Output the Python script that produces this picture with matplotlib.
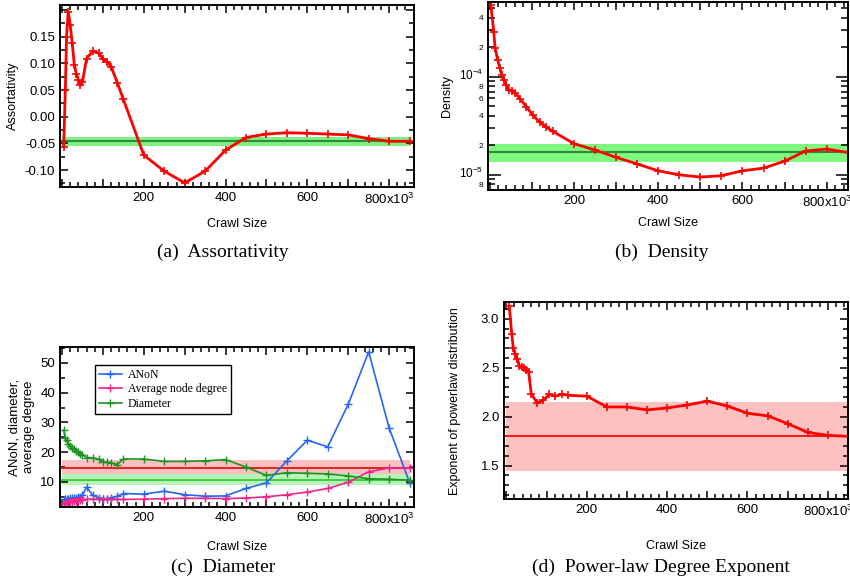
import matplotlib
matplotlib.use("Agg")
import matplotlib.pyplot as plt
import matplotlib.transforms as mtransforms
from matplotlib.ticker import MultipleLocator, FuncFormatter, LogLocator, FixedLocator

plt.rcParams['font.family'] = ['Liberation Sans', 'DejaVu Sans']
plt.rcParams['mathtext.fontset'] = 'custom'
plt.rcParams['mathtext.rm'] = 'Liberation Sans'
plt.rcParams['mathtext.it'] = 'Liberation Sans'

# crawl sizes (x10^3)
crawl_ac = [4, 8, 11, 15, 20, 25, 30, 35, 40, 45, 50, 60, 75, 90, 100, 110, 120, 135, 150,
            200, 250, 300, 350, 400, 450, 500, 550, 600, 650, 700, 750, 800, 850]
crawl_b = [3, 10, 13, 19, 24, 29, 34, 39, 45, 53, 61, 73, 87, 102, 119, 134, 150,
           200, 250, 300, 350, 400, 450, 500, 550, 600, 650, 700, 750, 800, 850]
crawl_d = [7, 13, 17, 22, 27, 32, 38, 44, 49, 55, 62, 77, 92, 107, 122, 138, 152,
           200, 250, 300, 350, 400, 450, 500, 550, 600, 650, 700, 750, 800, 850]

assortativity = [-0.056, 0.05, 0.15, 0.197, 0.172, 0.1375, 0.097, 0.080, 0.069, 0.059, 0.066,
                 0.109, 0.123, 0.119, 0.1075, 0.103, 0.094, 0.064, 0.0325,
                 -0.072, -0.102, -0.124, -0.102, -0.0625, -0.039, -0.0325, -0.030, -0.031,
                 -0.0325, -0.034, -0.041, -0.046, -0.046]
assort_mean, assort_lo, assort_hi = -0.045, -0.054, -0.0375

density = [5.35e-4, 2.84e-4, 1.96e-4, 1.49e-4, 1.23e-4, 1.05e-4, 9.2e-5, 8.2e-5, 7.3e-5,
           7.2e-5, 6.8e-5, 5.9e-5, 4.96e-5, 4.08e-5, 3.44e-5, 3.07e-5, 2.77e-5,
           2.08e-5, 1.79e-5, 1.51e-5, 1.29e-5, 1.10e-5, 1.0e-5, 9.5e-6, 9.8e-6, 1.10e-5,
           1.17e-5, 1.38e-5, 1.75e-5, 1.83e-5, 1.69e-5]
dens_mean, dens_lo, dens_hi = 1.70e-5, 1.34e-5, 2.07e-5

anon = [3.8, 4.1, 4.2, 4.4, 4.5, 4.6, 4.7, 4.7, 4.8, 5.0, 5.5, 8.3, 5.5, 4.7, 4.4, 4.4, 4.7,
        5.2, 6.1, 5.9, 6.9, 5.7, 5.2, 5.3, 7.8, 9.7, 17.1, 24.0, 21.8, 36.1, 53.7, 28.2, 9.8]
avg_degree = [2.7, 2.9, 3.1, 3.2, 3.3, 3.4, 3.5, 3.6, 3.7, 3.8, 3.9, 4.2, 4.2, 4.1, 4.1, 4.1,
              4.1, 4.1, 4.1, 4.2, 4.4, 4.5, 4.5, 4.4, 4.6, 5.0, 5.7, 6.6, 7.8, 9.9, 13.4,
              14.7, 14.7]
diameter = [27.4, 24.6, 24.0, 22.9, 22.1, 21.5, 21.0, 20.4, 19.9, 19.5, 19.2, 18.2, 18.1,
            17.6, 16.7, 16.6, 16.5, 15.8, 17.7, 17.7, 16.9, 16.9, 17.1, 17.5, 15.0, 12.2,
            13.1, 12.9, 12.7, 12.0, 11.1, 10.9, 10.6]
deg_mean, deg_lo, deg_hi = 14.7, 12.0, 17.3
diam_mean, diam_lo, diam_hi = 10.6, 8.9, 12.8

exponent = [3.13, 2.85, 2.70, 2.64, 2.59, 2.52, 2.51, 2.50, 2.48, 2.46, 2.23, 2.14, 2.17,
            2.23, 2.21, 2.23, 2.22, 2.21, 2.10, 2.10, 2.07, 2.09, 2.12, 2.16, 2.11, 2.035,
            2.01, 1.93, 1.84, 1.81, 1.80]
exp_mean, exp_lo, exp_hi = 1.80, 1.45, 2.155

band_x = [0, 850]


def xfmt(v, pos):
    if v == 800:
        return '800x10$^{3}$'
    if v in (200, 400, 600):
        return '%d' % v
    return ''


def style(ax, xlim):
    ax.set_xlim(xlim)
    ax.xaxis.set_major_locator(MultipleLocator(100))
    ax.xaxis.set_minor_locator(MultipleLocator(20))
    ax.xaxis.set_major_formatter(FuncFormatter(xfmt))
    ax.tick_params(which='both', direction='in', top=True, right=True, labelsize=9.5, width=1.1)
    ax.tick_params(which='major', length=6)
    ax.tick_params(which='minor', length=3.5)
    for s in ax.spines.values():
        s.set_linewidth(1.4)
    ax.set_xlabel('Crawl Size', fontsize=9)


fig = plt.figure(figsize=(8.5, 5.83), dpi=100)

# (a) Assortativity
ax1 = fig.add_axes([0.0706, 0.679, 0.4165, 0.312])
ax1.fill_between(band_x, assort_lo, assort_hi, color='#80f080', lw=0)
ax1.plot(band_x, [assort_mean] * 2, color='#2e8b3e', lw=1.5)
ax1.plot(crawl_ac, assortativity, color='red', lw=2, marker='+', ms=6, mew=1.2)
style(ax1, (-5, 861))
ax1.set_ylim(-0.132, 0.209)
ax1.yaxis.set_major_locator(MultipleLocator(0.05))
ax1.yaxis.set_minor_locator(MultipleLocator(0.025))
ax1.yaxis.set_major_formatter(FuncFormatter(lambda v, p: '%.2f' % v if v < 0.19 else ''))
ax1.set_ylabel('Assortativity', fontsize=9)
ax1.xaxis.labelpad = 8

# (b) Density
ax2 = fig.add_axes([0.574, 0.674, 0.4235, 0.3225])
ax2.axhspan(dens_lo, dens_hi, color='#80f880', lw=0)
ax2.axhline(dens_mean, color='#2d8a3a', lw=1.5)
ax2.plot(crawl_b, density, color='red', lw=2, marker='+', ms=6, mew=1.2)
ax2.set_yscale('log')
style(ax2, (-4, 850))
ax2.set_ylim(7.0e-6, 5.75e-4)
ax2.yaxis.set_major_locator(FixedLocator([1e-5, 1e-4]))
ax2.yaxis.set_minor_locator(LogLocator(base=10, subs=range(2, 10)))
ax2.yaxis.set_major_formatter(FuncFormatter(
    lambda v, p: '10$^{%d}$' % round(__import__('math').log10(v))))


def minor_fmt(v, pos):
    m = round(v / 10 ** int(f'{v:e}'.split('e')[1]))
    return '%d' % m if m in (2, 4, 6, 8) else ''


ax2.yaxis.set_minor_formatter(FuncFormatter(minor_fmt))
ax2.tick_params(axis='y', which='minor', labelsize=6, length=5)
ax2.tick_params(axis='y', which='major', length=9, labelsize=8.5)
# nudge the major decade labels a bit upward so they clear the "8" below
for lab in ax2.get_yticklabels():
    lab.set_transform(lab.get_transform() +
                      mtransforms.ScaledTranslation(0, 2 / 72, fig.dpi_scale_trans))
ax2.set_ylabel('Density', fontsize=9)
ax2.xaxis.labelpad = 5

# (c) Diameter
ax3 = fig.add_axes([0.0706, 0.130, 0.4165, 0.275])
ax3.fill_between(band_x, deg_lo, deg_hi, color='#f8c0c0', lw=0)
ax3.plot(band_x, [deg_mean] * 2, color='#e52020', lw=1.4)
ax3.fill_between(band_x, diam_lo, diam_hi, color='#b8f2b8', lw=0)
ax3.plot(band_x, [diam_mean] * 2, color='#3ccf3c', lw=1.4)
ax3.plot(crawl_ac, anon, color='#2466f0', lw=1.2, marker='+', ms=6, mew=1, label='ANoN')
ax3.plot(crawl_ac, avg_degree, color='#f0258c', lw=1.2, marker='+', ms=6, mew=1,
         label='Average node degree')
ax3.plot(crawl_ac, diameter, color='#1e9420', lw=1.2, marker='+', ms=6, mew=1, label='Diameter')
style(ax3, (-5, 861))
ax3.set_ylim(1.5, 55.4)
ax3.yaxis.set_major_locator(MultipleLocator(10))
ax3.yaxis.set_minor_locator(MultipleLocator(5))
ax3.set_ylabel('ANoN, diameter,\naverage degree', fontsize=9.5)
ax3.xaxis.labelpad = 10
leg = ax3.legend(loc='upper left', bbox_to_anchor=(0.099, 0.8875), borderaxespad=0,
                 fancybox=False, edgecolor='black', framealpha=1, borderpad=0.35,
                 labelspacing=0.2, handlelength=1.9, handletextpad=0.5,
                 prop={'family': 'Liberation Serif', 'size': 8.5})
leg.get_frame().set_linewidth(1.0)

# (d) Power-law Degree Exponent
ax4 = fig.add_axes([0.593, 0.1436, 0.405, 0.338])
ax4.fill_between(band_x, exp_lo, exp_hi, color='#ffc0c0', lw=0)
ax4.plot(band_x, [exp_mean] * 2, color='#f01818', lw=1.4)
ax4.plot(crawl_d, exponent, color='red', lw=2, marker='+', ms=6, mew=1.2)
style(ax4, (-6, 851))
ax4.set_ylim(1.157, 3.17)
ax4.yaxis.set_major_locator(MultipleLocator(0.5))
ax4.yaxis.set_minor_locator(MultipleLocator(0.1))
ax4.set_ylabel('Exponent of powerlaw distribution', fontsize=9)
ax4.xaxis.labelpad = 15
ax4.yaxis.labelpad = 14

cap = {'family': 'Liberation Serif', 'size': 14}
fig.text(0.262, 0.568, '(a)  Assortativity', ha='center', va='center', fontdict=cap)
fig.text(0.779, 0.568, '(b)  Density', ha='center', va='center', fontdict=cap)
fig.text(0.262, 0.026, '(c)  Diameter', ha='center', va='center', fontdict=cap)
fig.text(0.778, 0.026, '(d)  Power-law Degree Exponent', ha='center', va='center', fontdict=cap)

fig.savefig('out.png', dpi=100)
